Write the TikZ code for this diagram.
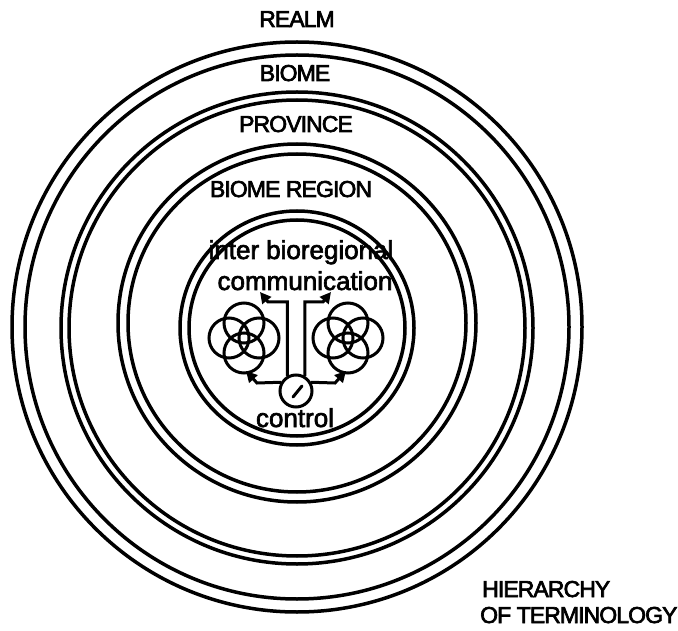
\documentclass[tikz,border=0pt]{standalone}
\usepackage{fontspec}
\setmainfont[FakeBold=2.5]{Liberation Sans}
\newfontfamily\capfont[LetterSpace=-4,FakeBold=3]{Liberation Sans}
\usetikzlibrary{arrows.meta,calc}
\begin{document}
\begin{tikzpicture}[x=1pt,y=-1pt,
  ring/.style={circle, draw, line width=3.5pt, inner sep=0pt, minimum size=#1},
  petal/.style={circle, draw, line width=3pt, inner sep=0pt, minimum size=40pt},
  caplabel/.style={font=\capfont\fontsize{23}{23}\selectfont, inner sep=0pt},
  lowlabel/.style={font=\fontsize{26}{26}\selectfont, inner sep=0pt},
  conn/.style={line width=3pt, -{Triangle[length=11pt,width=11pt]}},
  dial/.style={circle, draw, line width=3pt, inner sep=0pt, minimum size=32pt}]
\useasboundingbox (0,0) rectangle (678,631);
% rings
\node[ring=570pt] (ra1) at (297,327) {};
\node[ring=544pt] (ra2) at (297,327) {};
\node[ring=472pt] (rb1) at (297,328) {};
\node[ring=456pt] (rb2) at (297,328) {};
\node[ring=358pt] (rc1) at (297,323) {};
\node[ring=338pt] (rc2) at (297,323) {};
\node[ring=234pt] (rd1) at (297,328) {};
\node[ring=216pt] (rd2) at (297,328) {};
% labels
\node[caplabel, anchor=base] (realm) at (297,27) {REALM};
\node[caplabel, anchor=base] (biome) at (295,81) {BIOME};
\node[caplabel, anchor=base] (prov) at (296,132) {PROVINCE};
\node[caplabel, anchor=base] (breg) at (291,197) {BIOME REGION};
\node[lowlabel, anchor=base] (inter) at (301,259) {inter\hspace{7pt}bioregional};
\node[lowlabel, anchor=base] (comm) at (305,290) {communication};
\node[lowlabel, anchor=base] (ctl) at (295,427) {control};
\node[caplabel, anchor=base west] (hier) at (482,597) {HIERARCHY};
\node[caplabel, anchor=base west] (term) at (480,623) {OF TERMINOLOGY};
% flowers
\coordinate (lf) at (244,338);
\coordinate (rf) at (348,338);
\foreach \f in {lf,rf}{
  \node[petal] (\f t) at ($(\f)+(0,-15)$) {};
  \node[petal] (\f b) at ($(\f)+(0,15)$) {};
  \node[petal] (\f l) at ($(\f)+(-15,0)$) {};
  \node[petal] (\f r) at ($(\f)+(15,0)$) {};
}
% control dial
\node[dial] (ctrl) at (296,391) {};
\coordinate (needleA) at (293,397);
\coordinate (needleB) at (302,386);
\draw[line width=3pt, line cap=round] (needleA) -- (needleB);
% connectors
\coordinate (tl) at (260,292);
\coordinate (tr) at (331,292);
\coordinate (bl) at (246,371);
\coordinate (br) at (346,371);
\draw[conn] (ctrl.120) |- (268,302) -- (tl);
\draw[conn] (ctrl.60) |- (323,302) -- (tr);
\draw[conn] (ctrl.150) -- (257,383) -- (bl);
\draw[conn] (ctrl.30) -- (335,383) -- (br);
\end{tikzpicture}
\end{document}
